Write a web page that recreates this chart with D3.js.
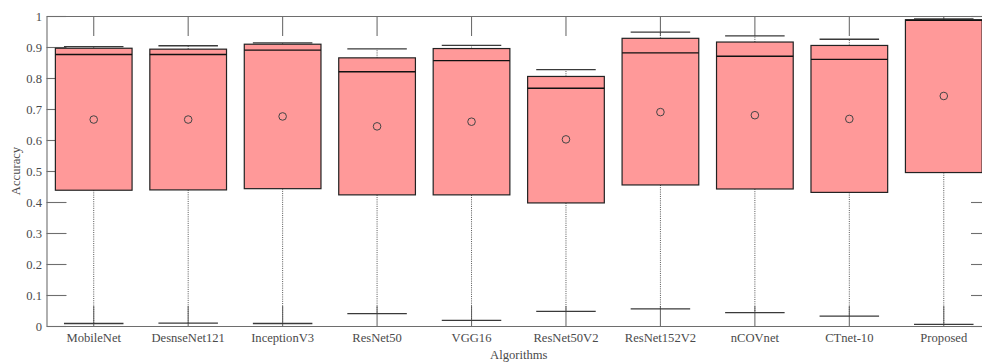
<!DOCTYPE html>
<html>
<head>
<meta charset="utf-8">
<script src="https://cdn.jsdelivr.net/npm/d3@7"></script>
<style>
  html, body { margin: 0; padding: 0; background: #fff; }
  svg { display: block; }
  text { font-family: "Liberation Serif", "Times New Roman", serif; }
</style>
</head>
<body>
<svg id="chart" width="982" height="363"></svg>
<script>
const categories = ["MobileNet", "DesnseNet121", "InceptionV3", "ResNet50", "VGG16", "ResNet50V2", "ResNet152V2", "nCOVnet", "CTnet-10", "Proposed"];
const whiskerLow  = [0.008, 0.009, 0.008, 0.040, 0.018, 0.047, 0.055, 0.043, 0.032, 0.005];
const q1          = [0.438, 0.439, 0.443, 0.423, 0.423, 0.397, 0.455, 0.442, 0.431, 0.495];
const medians     = [0.876, 0.876, 0.890, 0.820, 0.856, 0.767, 0.881, 0.870, 0.860, 0.986];
const q3          = [0.896, 0.893, 0.909, 0.865, 0.895, 0.805, 0.928, 0.916, 0.905, 0.988];
const whiskerHigh = [0.901, 0.904, 0.913, 0.894, 0.905, 0.827, 0.948, 0.936, 0.925, 0.991];
const means       = [0.666, 0.666, 0.676, 0.644, 0.659, 0.602, 0.690, 0.680, 0.668, 0.742];
const yTicks      = [0, 0.1, 0.2, 0.3, 0.4, 0.5, 0.6, 0.7, 0.8, 0.9, 1];
const xTitle = "Algorithms";
const yTitle = "Accuracy";

const svg = d3.select("#chart");
const L = 46.5, R = 991, T = 16, B = 326;
const x = d3.scaleBand().domain(categories).range([L, R]).paddingInner(0).paddingOuter(0);
const y = d3.scaleLinear().domain([0, 1]).range([B, T]);
const bw = x.bandwidth();
const cx = c => x(c) + bw / 2;
const boxW = bw * 0.812;
const capW = bw * 0.63;

const axisColor = "#6e6e6e";
const textColor = "#4a4a4a";
const fontSize = 12.6;

function styleAxis(g) {
  g.selectAll("path.domain").attr("stroke", axisColor).attr("stroke-width", 1.1);
  g.selectAll(".tick line").attr("stroke", axisColor).attr("stroke-width", 1.1);
  g.selectAll(".tick text").attr("fill", textColor).style("font-size", fontSize + "px")
    .style("font-family", "'Liberation Serif', 'Times New Roman', serif");
}

// axes first (boxes are drawn over the ticks)
svg.append("g").attr("transform", `translate(${L},0)`)
  .call(d3.axisLeft(y).tickValues(yTicks).tickFormat(d => d3.format("~g")(d)).tickSize(-20).tickSizeOuter(0).tickPadding(4.5))
  .call(styleAxis);
svg.append("g").attr("transform", `translate(${R},0)`)
  .call(d3.axisRight(y).tickValues(yTicks).tickFormat("").tickSize(-20).tickSizeOuter(0))
  .call(styleAxis);
svg.append("g").attr("transform", `translate(0,${B})`)
  .call(d3.axisBottom(x).tickSize(-20).tickSizeOuter(0).tickPadding(7.4))
  .call(styleAxis);
svg.append("g").attr("transform", `translate(0,${T})`)
  .call(d3.axisTop(x).tickFormat("").tickSize(-20).tickSizeOuter(0))
  .call(styleAxis);

const data = categories.map((c, i) => ({
  c, lo: whiskerLow[i], q1: q1[i], med: medians[i], q3: q3[i], hi: whiskerHigh[i], mean: means[i]
}));

const g = svg.append("g");
// whiskers (dotted)
g.selectAll("line.wlow").data(data).join("line")
  .attr("x1", d => cx(d.c)).attr("x2", d => cx(d.c))
  .attr("y1", d => y(d.q1)).attr("y2", d => y(d.lo))
  .attr("stroke", "#555").attr("stroke-width", 1).attr("stroke-dasharray", "1,1.2");
g.selectAll("line.whigh").data(data).join("line")
  .attr("x1", d => cx(d.c)).attr("x2", d => cx(d.c))
  .attr("y1", d => y(d.q3)).attr("y2", d => y(d.hi))
  .attr("stroke", "#555").attr("stroke-width", 1).attr("stroke-dasharray", "1,1.2");
// caps
g.selectAll("line.caplo").data(data).join("line")
  .attr("x1", d => cx(d.c) - capW / 2).attr("x2", d => cx(d.c) + capW / 2)
  .attr("y1", d => y(d.lo)).attr("y2", d => y(d.lo))
  .attr("stroke", "#3a3a3a").attr("stroke-width", 1.3);
g.selectAll("line.caphi").data(data).join("line")
  .attr("x1", d => cx(d.c) - capW / 2).attr("x2", d => cx(d.c) + capW / 2)
  .attr("y1", d => y(d.hi)).attr("y2", d => y(d.hi))
  .attr("stroke", "#3a3a3a").attr("stroke-width", 1.3);
// boxes
g.selectAll("rect.box").data(data).join("rect")
  .attr("x", d => cx(d.c) - boxW / 2).attr("width", boxW)
  .attr("y", d => y(d.q3)).attr("height", d => y(d.q1) - y(d.q3))
  .attr("fill", "#ff9999").attr("stroke", "#222").attr("stroke-width", 1.2);
// medians
g.selectAll("line.med").data(data).join("line")
  .attr("x1", d => cx(d.c) - boxW / 2).attr("x2", d => cx(d.c) + boxW / 2)
  .attr("y1", d => y(d.med)).attr("y2", d => y(d.med))
  .attr("stroke", "#111").attr("stroke-width", 1.4);
// means
g.selectAll("circle.mean").data(data).join("circle")
  .attr("cx", d => cx(d.c)).attr("cy", d => y(d.mean)).attr("r", 3.8)
  .attr("fill", "none").attr("stroke", "#444").attr("stroke-width", 1);

// titles
svg.append("text").attr("x", (L + R) / 2).attr("y", 358.6).attr("text-anchor", "middle")
  .attr("fill", textColor).style("font-size", fontSize + "px").text(xTitle);
svg.append("text").attr("transform", `translate(20,${(T + B) / 2}) rotate(-90)`).attr("text-anchor", "middle")
  .attr("fill", textColor).style("font-size", fontSize + "px").text(yTitle);
</script>
</body>
</html>
